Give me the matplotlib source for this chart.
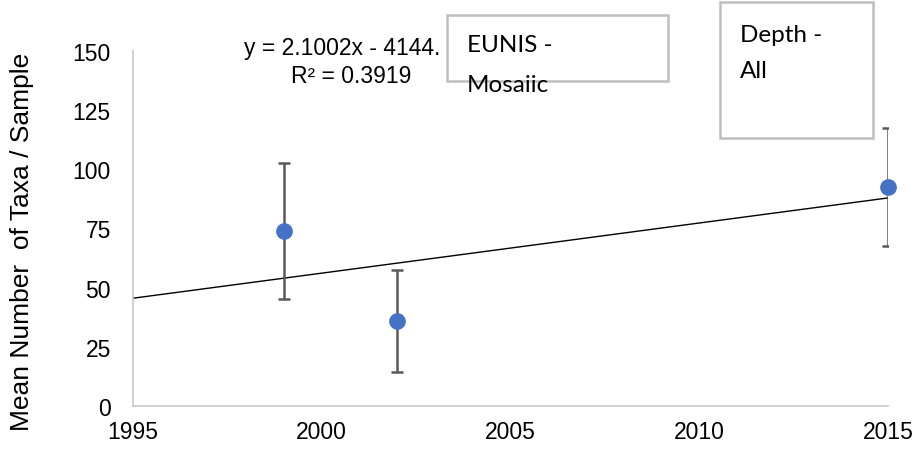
import numpy as np
import matplotlib
matplotlib.use("Agg")
import matplotlib.pyplot as plt
from matplotlib.patches import Rectangle

# data
years = [1999, 2002, 2015]
mean_taxa = [73.9, 35.9, 92.5]
err_taxa = [28.8, 21.5, 25.0]

y_ticks = [0, 25, 50, 75, 100, 125, 150]
x_ticks = [1995, 2000, 2005, 2010, 2015]

eq_text = "y = 2.1002x - 4144."
r2_text = "R\u00b2 = 0.3919"
box1_lines = ["EUNIS -", "Mosaiic"]
box2_lines = ["Depth -", "All"]

W, H = 919, 452
plt.rcParams["font.family"] = ["Liberation Sans", "DejaVu Sans"]

def fx(x):
    return x / W

def fy(y):
    return 1 - y / H

fig = plt.figure(figsize=(W / 100, H / 100), dpi=100)
ax = fig.add_axes([fx(133), fy(407), fx(888) - fx(133), fy(52) - fy(407)])

# trendline from a least-squares fit
coef = np.polyfit(years, mean_taxa, 1)
xs = np.array([1995, 2015])
ax.plot(xs, np.polyval(coef, xs), color="black", lw=1.0, zorder=2)

ax.errorbar(years, mean_taxa, yerr=err_taxa, fmt="none", ecolor="#595959",
            elinewidth=1.8, capsize=4.5, capthick=1.8, zorder=3)
ax.plot(years, mean_taxa, "o", color="#4472C4", ms=11, zorder=4, clip_on=False)

ax.set_xlim(1995, 2015)
ax.set_ylim(0, 150)
ax.set_yticks(y_ticks)
ax.set_xticks(x_ticks)
ax.tick_params(axis="both", length=0, labelsize=16.5, colors="black")
ax.tick_params(axis="y", pad=16)
ax.tick_params(axis="x", pad=10)
ax.spines[["top", "right"]].set_visible(False)
for s in ["left", "bottom"]:
    ax.spines[s].set_color("#c8c8c8")
    ax.spines[s].set_linewidth(1.2)

ax.set_ylabel("Mean Number  of Taxa / Sample", fontsize=19)
ax.yaxis.set_label_coords(fx(34), fy(242), transform=fig.transFigure)

# trendline label
fig.text(fx(342), fy(55), eq_text, fontsize=16.5, ha="center", va="baseline", zorder=5)
fig.text(fx(351), fy(83), r2_text, fontsize=16.5, ha="center", va="baseline", zorder=5)

# annotation boxes
for (x0, y0, x1, y1) in [(447, 16, 668, 82), (720, 3, 873, 139)]:
    fig.patches.append(Rectangle((fx(x0), fy(y1)), fx(x1) - fx(x0), fy(y0) - fy(y1),
                                 transform=fig.transFigure, facecolor="white",
                                 edgecolor="#bfbfbf", lw=1.8, zorder=6))

box_font = ["Lato", "DejaVu Sans"]
for line, yb in zip(box1_lines, [52, 92]):
    fig.text(fx(467), fy(yb), line, fontsize=17.5, family=box_font, ha="left",
             va="baseline", zorder=7)
for line, yb in zip(box2_lines, [42, 78]):
    fig.text(fx(740), fy(yb), line, fontsize=17.5, family=box_font, ha="left",
             va="baseline", zorder=7)

fig.savefig("out.png", dpi=100)
